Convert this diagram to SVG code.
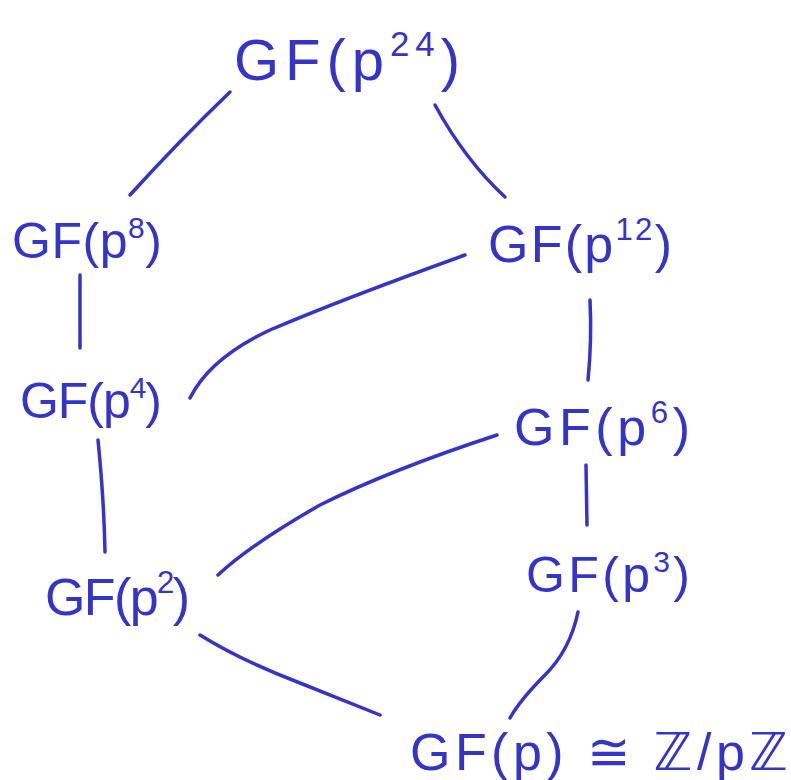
<svg xmlns="http://www.w3.org/2000/svg" width="791" height="780" viewBox="0 0 791 780">
<style>
.n{font-family:"Liberation Sans","DejaVu Sans",sans-serif;fill:#3434c8;}
.s{font-size:60%;}
.e{fill:none;stroke:#3434c8;stroke-width:3.5;stroke-linecap:round;}
</style>
<rect width="791" height="780" fill="#ffffff"/>
<g id="edges">
<path class="e" d="M230,92 Q180,140 130,195"/>
<path class="e" d="M435,105 Q465,160 505,197"/>
<path class="e" d="M80,275 L80,348"/>
<path class="e" d="M465,255 Q340,300 270,330 Q210,358 190,398"/>
<path class="e" d="M590,300 Q592,340 588,380"/>
<path class="e" d="M98,440 Q104,500 105,552"/>
<path class="e" d="M497,435 Q390,470 320,505 Q250,545 218,575"/>
<path class="e" d="M586,465 L587,525"/>
<path class="e" d="M200,635 Q240,660 300,683 Q350,703 380,715"/>
<path class="e" d="M578,612 Q570,650 545,675 Q520,700 510,718"/>
</g>
<g id="n24"><text class="n" x="234" y="80" font-size="58" textLength="226" lengthAdjust="spacing">GF(p<tspan class="s" dy="-24">24</tspan><tspan dy="24">)</tspan></text></g>
<g id="n8"><text class="n" x="12" y="258" font-size="50" textLength="150" lengthAdjust="spacing">GF(p<tspan class="s" dy="-20">8</tspan><tspan dy="20">)</tspan></text></g>
<g id="n12"><text class="n" x="488" y="262" font-size="52" textLength="184" lengthAdjust="spacing">GF(p<tspan class="s" dy="-22">12</tspan><tspan dy="22">)</tspan></text></g>
<g id="n4"><text class="n" x="20" y="418" font-size="50" textLength="142" lengthAdjust="spacing">GF(p<tspan class="s" dy="-20">4</tspan><tspan dy="20">)</tspan></text></g>
<g id="n6"><text class="n" x="514" y="445" font-size="52" textLength="176" lengthAdjust="spacing">GF(p<tspan class="s" dy="-22">6</tspan><tspan dy="22">)</tspan></text></g>
<g id="n2"><text class="n" x="45" y="615" font-size="52" textLength="145" lengthAdjust="spacing">GF(p<tspan class="s" dy="-22">2</tspan><tspan dy="22">)</tspan></text></g>
<g id="n3"><text class="n" x="526" y="592" font-size="50" textLength="164" lengthAdjust="spacing">GF(p<tspan class="s" dy="-20">3</tspan><tspan dy="20">)</tspan></text></g>
<g id="n1"><text class="n" x="410" y="770" font-size="52" textLength="378" lengthAdjust="spacing">GF(p) ≅ ℤ/pℤ</text></g>
</svg>
